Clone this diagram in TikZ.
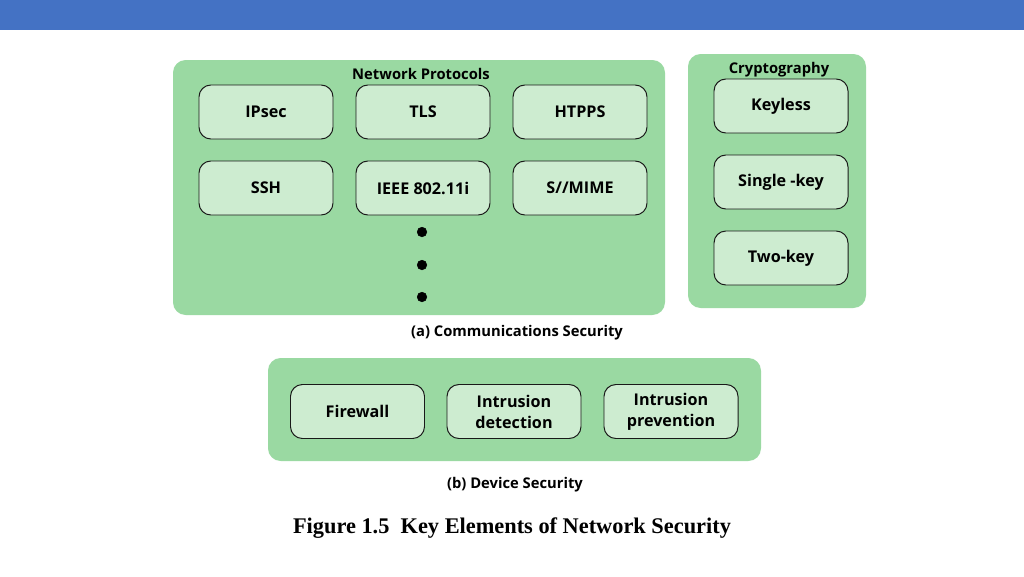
\documentclass[tikz,border=0pt]{standalone}
\usepackage{fontspec}
\setmainfont{Liberation Serif}
\newfontfamily\boxfont{Open Sans}
\usetikzlibrary{positioning}
\definecolor{barblue}{RGB}{68,114,196}
\definecolor{panelgreen}{RGB}{154,217,162}
\definecolor{boxgreen}{RGB}{205,236,208}
\tikzset{panel/.style={rectangle,rounded corners=9pt,fill=panelgreen,draw=none}}
\tikzset{elem/.style={rectangle,rounded corners=8.5pt,fill=boxgreen,draw=black!90,line width=0.7pt,minimum width=3.35cm,minimum height=1.35cm,align=center,font=\boxfont\bfseries\fontsize{11.5}{15}\selectfont}}
\tikzset{ttl/.style={font=\boxfont\bfseries\fontsize{10.5}{12}\selectfont,inner sep=0pt}}
\tikzset{anch/.style={circle,fill=black,draw=black,inner sep=0pt,minimum size=2.4mm}}

\begin{document}
\begin{tikzpicture}
\useasboundingbox (0,0) rectangle (25.6,-14.4);
\fill[barblue] (0,0) rectangle (25.6,-0.75);
% panels
\node (net) at (10.475,-4.6875) [panel,minimum width=12.3cm,minimum height=6.375cm] {};
\node (crypt) at (19.425,-4.525) [panel,minimum width=4.45cm,minimum height=6.35cm] {};
\node (dev) at (12.8625,-10.2375) [panel,minimum width=12.325cm,minimum height=2.575cm] {};
\node (nettl) at (10.525,-1.84) [ttl] {Network Protocols};
\node (crypttl) at (19.475,-1.73) [ttl] {Cryptography};
% network protocols
\node (ipsec) at (6.65,-2.8) [elem] {IPsec};
\node (tls) at (10.575,-2.8) [elem] {TLS};
\node (htpps) at (14.5,-2.8) [elem] {HTPPS};
\node (ssh) at (6.65,-4.7) [elem] {SSH};
\node (ieee) at (10.575,-4.7) [elem] {IEEE 802.11i};
\node (mime) at (14.5,-4.7) [elem] {S//MIME};
\node (d1) at (10.55,-5.8) [anch] {};
\node (d2) at (10.55,-6.625) [anch] {};
\node (d3) at (10.55,-7.425) [anch] {};
% cryptography
\node (keyless) at (19.525,-2.65) [elem] {Keyless};
\node (single) at (19.525,-4.55) [elem] {Single -key};
\node (two) at (19.525,-6.45) [elem] {Two-key};
% device security
\node (fw) at (8.9375,-10.2875) [elem] {Firewall};
\node (ids) at (12.85,-10.2875) [elem] {Intrusion\\detection};
\node (ips) at (16.775,-10.2875) [elem] {Intrusion\\prevention};
% captions
\node (capa) at (12.925,-8.32) [ttl] {(a) Communications Security};
\node (capb) at (12.875,-12.12) [ttl] {(b) Device Security};
\node (fig) at (12.8,-13.19) [font=\bfseries\fontsize{15.9}{18}\selectfont] {Figure 1.5\ \ Key Elements of Network Security};
\end{tikzpicture}
\end{document}
